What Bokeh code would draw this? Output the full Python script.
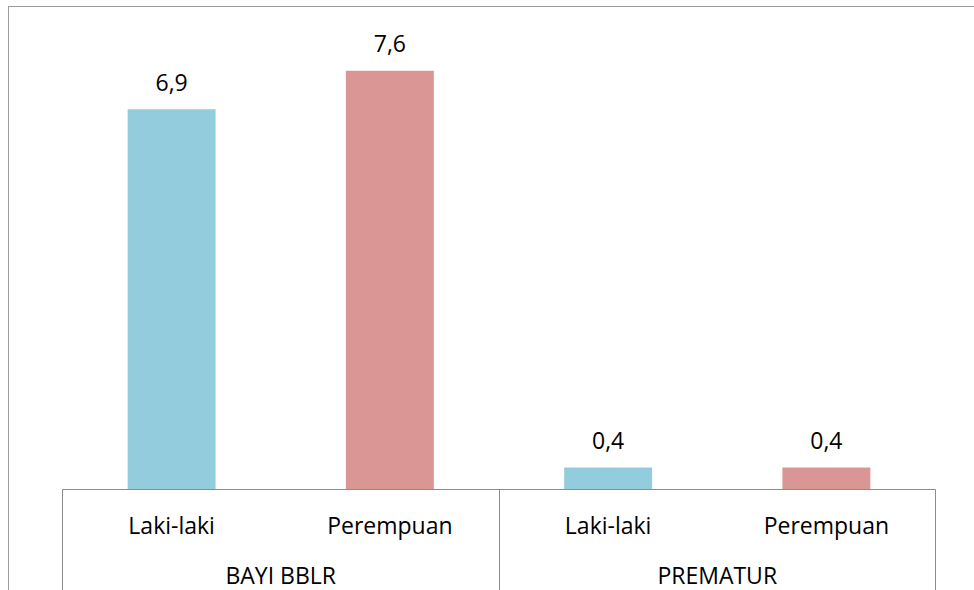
from bokeh.plotting import figure
from bokeh.models import Range1d, LinearAxis, FixedTicker, ColumnDataSource
from bokeh.core.properties import value
from bokeh.embed import file_html
from bokeh.resources import INLINE

# ---- data ----
groups = ["BAYI BBLR", "PREMATUR"]
sexes = ["Laki-laki", "Perempuan"]
bblr_values = [6.9, 7.6]
prematur_values = [0.4, 0.4]
sex_colors = ["#93CDDD", "#D99694"]

series = [bblr_values, prematur_values]
n_sub = len(sexes)

xs, tops, colors, labels = [], [], [], []
for gi, vals in enumerate(series):
    for si, v in enumerate(vals):
        xs.append(gi * n_sub + si + 0.5)
        tops.append(v)
        colors.append(sex_colors[si])
        labels.append(f"{v:.1f}".replace(".", ","))

src = ColumnDataSource(dict(x=xs, top=tops, color=colors, label=labels))

FONT = "Open Sans"
FSIZE = "23px"
AXIS_GRAY = "#8c8c8c"
BORDER_GRAY = "#9d9d9d"

p = figure(
    width=974, height=598,
    output_backend="svg", toolbar_location=None, tools="",
    x_axis_type=None, y_axis_type=None,
    x_range=Range1d(0, len(groups) * n_sub),
    y_range=Range1d(0, 8.693),
    min_border_left=62, min_border_right=39,
    min_border_top=14, min_border_bottom=105,
)
p.styles = {
    "margin": "-4px 0px -8px 0px",
    "background": (
        f"linear-gradient({BORDER_GRAY},{BORDER_GRAY}) 8px 10px / 100% 1px no-repeat, "
        f"linear-gradient({BORDER_GRAY},{BORDER_GRAY}) 8px 10px / 1px 100% no-repeat, #ffffff"
    ),
}
p.border_fill_color = None
p.background_fill_color = None
p.outline_line_color = None
p.xgrid.visible = False
p.ygrid.visible = False

p.vbar(x="x", top="top", width=0.403, bottom=0, color="color", line_color=None, source=src)

p.text(x="x", y="top", text="label", source=src,
       text_font=value(FONT), text_font_size=value(FSIZE),
       text_align="center", text_baseline="alphabetic",
       y_offset=-27, text_color="black")

TICK_LEN = 130
sep_ticks = [float(gi * n_sub) for gi in range(len(groups) + 1)]
inner_overrides = {x: sexes[i % n_sub] for i, x in enumerate(xs)}
ax_inner = LinearAxis(
    ticker=FixedTicker(ticks=xs, minor_ticks=sep_ticks),
    major_label_overrides=inner_overrides,
    axis_line_color=AXIS_GRAY, axis_line_width=1,
    major_tick_line_color=None, major_tick_in=0, major_tick_out=0,
    minor_tick_line_color=AXIS_GRAY, minor_tick_line_width=1,
    minor_tick_in=0, minor_tick_out=TICK_LEN,
    major_label_standoff=19 - TICK_LEN,
    major_label_text_font=FONT, major_label_text_font_size=FSIZE,
    major_label_text_color="black",
)

group_ticks = [gi * n_sub + n_sub / 2 for gi in range(len(groups))]
group_overrides = {t: g for t, g in zip(group_ticks, groups)}
ax_group = LinearAxis(
    ticker=FixedTicker(ticks=group_ticks),
    major_label_overrides=group_overrides,
    axis_line_color=None,
    major_tick_line_color=None, major_tick_in=0, major_tick_out=0,
    minor_tick_line_color=None,
    major_label_standoff=15,
    major_label_text_font=FONT, major_label_text_font_size=FSIZE,
    major_label_text_color="black",
)

p.add_layout(ax_inner, "below")
p.add_layout(ax_group, "below")

open("out.html", "w").write(file_html(p, INLINE))
